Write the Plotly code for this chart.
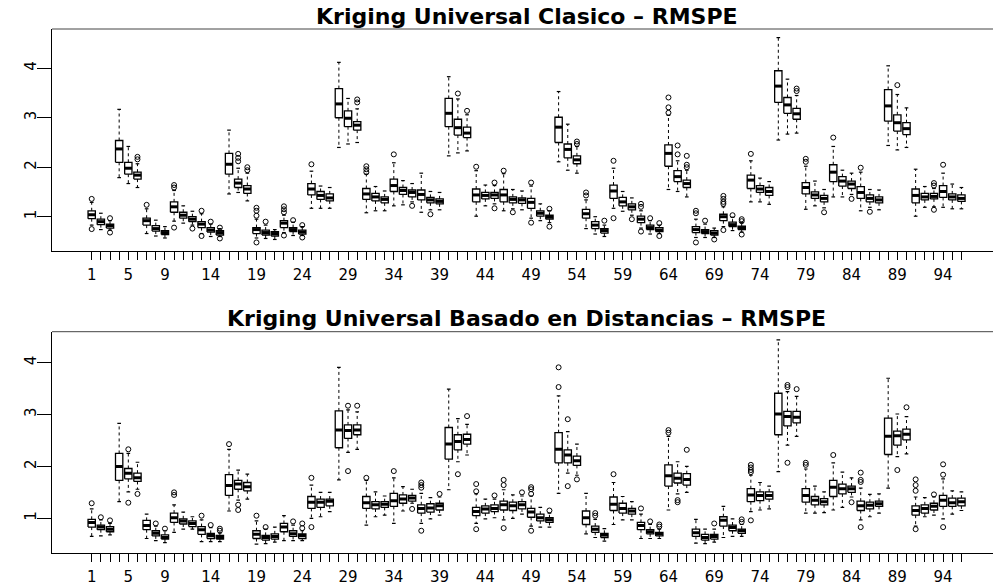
import plotly.graph_objects as go

# ---------------------------------------------------------------- data
positions = list(range(1, 97))
labeled_ticks = [1, 5, 9, 14, 19, 24, 29, 34, 39, 44, 49, 54, 59, 64, 69, 74, 79, 84, 89, 94]

title_top = "Kriging Universal Clasico \u2013 RMSPE"
title_bottom = "Kriging Universal Basado en Distancias \u2013 RMSPE"

# Kriging Universal Clasico: five-number summaries per scenario
clas_lo = [0.83, 0.74, 0.73, 1.79, 1.67, 1.59, 0.66, 0.61, 0.57, 0.91, 0.87, 0.83,
           0.66, 0.60, 0.60, 1.46, 1.49, 1.32, 0.57, 0.56, 0.54, 0.68, 0.62, 0.62,
           1.17, 1.17, 1.17, 2.40, 2.47, 2.50, 1.08, 1.12, 1.12, 1.22, 1.24, 1.30,
           1.09, 1.14, 1.14, 2.23, 2.29, 2.33, 1.01, 1.22, 1.26, 1.12, 1.16, 1.14,
           0.97, 0.92, 0.88, 2.11, 1.94, 1.88, 0.76, 0.65, 0.60, 1.17, 1.11, 1.03,
           0.77, 0.65, 0.66, 1.55, 1.51, 1.40, 0.58, 0.58, 0.58, 0.80, 0.72, 0.69,
           1.30, 1.30, 1.25, 2.55, 2.67, 2.69, 1.15, 1.22, 1.18, 1.40, 1.40, 1.45,
           1.12, 1.19, 1.14, 2.44, 2.35, 2.40, 1.01, 1.19, 1.20, 1.19, 1.16, 1.16]
clas_q1 = [0.96, 0.84, 0.77, 2.10, 1.86, 1.76, 0.83, 0.71, 0.64, 1.09, 0.97, 0.90,
           0.78, 0.69, 0.63, 1.86, 1.59, 1.47, 0.66, 0.63, 0.61, 0.78, 0.70, 0.65,
           1.44, 1.35, 1.32, 3.00, 2.82, 2.75, 1.35, 1.32, 1.28, 1.51, 1.45, 1.40,
           1.34, 1.28, 1.26, 2.82, 2.65, 2.60, 1.30, 1.36, 1.37, 1.30, 1.28, 1.27,
           1.17, 1.01, 0.95, 2.50, 2.19, 2.07, 0.97, 0.76, 0.67, 1.37, 1.22, 1.14,
           0.88, 0.74, 0.70, 2.02, 1.71, 1.59, 0.68, 0.66, 0.63, 0.92, 0.80, 0.74,
           1.57, 1.49, 1.43, 3.31, 3.09, 2.97, 1.46, 1.37, 1.30, 1.71, 1.62, 1.57,
           1.37, 1.30, 1.28, 2.93, 2.73, 2.66, 1.28, 1.34, 1.36, 1.39, 1.34, 1.31]
clas_med = [1.04, 0.90, 0.82, 2.37, 1.98, 1.84, 0.92, 0.76, 0.68, 1.20, 1.03, 0.95,
            0.85, 0.73, 0.68, 2.06, 1.68, 1.56, 0.74, 0.68, 0.66, 0.87, 0.74, 0.69,
            1.56, 1.43, 1.38, 3.28, 2.99, 2.85, 1.46, 1.40, 1.35, 1.63, 1.53, 1.49,
            1.45, 1.34, 1.31, 3.09, 2.80, 2.69, 1.44, 1.43, 1.44, 1.44, 1.35, 1.34,
            1.29, 1.07, 0.99, 2.81, 2.36, 2.15, 1.06, 0.83, 0.72, 1.52, 1.30, 1.20,
            0.95, 0.78, 0.73, 2.28, 1.81, 1.67, 0.74, 0.70, 0.67, 1.00, 0.84, 0.78,
            1.74, 1.56, 1.51, 3.64, 3.26, 3.08, 1.59, 1.44, 1.37, 1.90, 1.72, 1.66,
            1.49, 1.37, 1.34, 3.24, 2.90, 2.78, 1.43, 1.40, 1.41, 1.51, 1.40, 1.37]
clas_q3 = [1.12, 0.95, 0.85, 2.54, 2.10, 1.90, 0.97, 0.82, 0.72, 1.30, 1.09, 1.00,
           0.90, 0.78, 0.72, 2.28, 1.76, 1.63, 0.78, 0.73, 0.70, 0.92, 0.78, 0.73,
           1.67, 1.51, 1.46, 3.59, 3.14, 2.92, 1.57, 1.47, 1.40, 1.76, 1.59, 1.54,
           1.54, 1.39, 1.36, 3.39, 2.97, 2.81, 1.56, 1.49, 1.49, 1.55, 1.40, 1.38,
           1.37, 1.12, 1.03, 3.01, 2.47, 2.23, 1.15, 0.90, 0.76, 1.64, 1.39, 1.26,
           1.01, 0.83, 0.78, 2.45, 1.93, 1.74, 0.80, 0.74, 0.72, 1.05, 0.89, 0.81,
           1.84, 1.63, 1.59, 3.95, 3.41, 3.19, 1.69, 1.50, 1.43, 2.05, 1.81, 1.72,
           1.61, 1.44, 1.40, 3.57, 3.06, 2.90, 1.56, 1.47, 1.47, 1.63, 1.46, 1.44]
clas_hi = [1.29, 1.07, 0.92, 3.17, 2.42, 2.07, 1.16, 0.93, 0.80, 1.53, 1.22, 1.11,
           1.06, 0.85, 0.76, 2.75, 1.98, 1.88, 0.95, 0.83, 0.74, 1.03, 0.89, 0.80,
           1.92, 1.62, 1.59, 4.12, 3.39, 3.18, 1.86, 1.61, 1.52, 2.09, 1.73, 1.67,
           1.88, 1.51, 1.49, 3.83, 3.38, 3.06, 1.93, 1.64, 1.63, 1.87, 1.55, 1.52,
           1.62, 1.26, 1.12, 3.53, 2.87, 2.42, 1.34, 1.00, 0.83, 1.98, 1.51, 1.38,
           1.12, 0.92, 0.83, 3.05, 2.13, 1.94, 0.95, 0.85, 0.77, 1.20, 0.99, 0.88,
           2.13, 1.78, 1.71, 4.62, 3.78, 3.45, 2.02, 1.72, 1.55, 2.42, 1.94, 1.88,
           1.90, 1.55, 1.54, 4.05, 3.47, 3.20, 1.96, 1.61, 1.57, 1.88, 1.66, 1.59]
clas_out = [[1.36, 0.75], [], [0.97, 0.68], [], [], [2.21, 2.16],
            [1.24], [], [], [1.64, 1.59, 0.78], [], [0.76],
            [1.12, 0.61], [0.90], [0.78, 0.56], [], [2.27, 2.19, 2.12], [2.00, 1.94],
            [1.18, 1.12, 1.02, 0.48], [0.90], [], [1.21, 1.15, 1.09, 0.62], [0.93], [0.83, 0.58],
            [2.06], [], [], [], [], [3.37, 3.31],
            [2.02, 1.96, 1.90], [], [], [2.26], [], [1.22],
            [], [1.05], [], [], [3.49], [3.14],
            [2.01], [], [1.69, 1.17], [1.93], [1.09], [],
            [1.69, 0.88], [], [1.16, 0.80], [], [], [2.52, 2.47],
            [1.49, 1.43], [], [0.92], [2.13, 0.97], [], [0.95],
            [1.26, 1.20, 0.70], [0.97], [0.87, 0.61], [3.41, 3.21, 3.10], [2.44, 2.26], [2.23, 2.05, 2.00],
            [1.12, 1.07, 0.48], [0.92], [0.54], [1.42, 1.36, 1.30, 1.26, 0.73], [1.03], [0.95, 0.91, 0.64],
            [2.27], [], [], [], [], [3.59, 3.54],
            [2.17, 2.11], [], [1.09], [2.60], [], [1.36],
            [1.99], [1.10], [], [], [3.66], [],
            [], [], [1.68, 1.63, 1.14], [2.05], [], []]

# Kriging Universal Basado en Distancias: five-number summaries per scenario
dist_lo = [0.65, 0.66, 0.68, 1.32, 1.51, 1.56, 0.61, 0.57, 0.53, 0.73, 0.79, 0.79,
           0.55, 0.55, 0.55, 1.14, 1.35, 1.37, 0.50, 0.51, 0.54, 0.57, 0.57, 0.57,
           1.00, 1.03, 1.13, 1.74, 2.27, 2.33, 0.87, 1.03, 1.06, 0.90, 1.14, 1.29,
           0.90, 0.99, 1.06, 1.55, 2.09, 2.22, 0.90, 0.99, 1.01, 0.97, 1.00, 1.08,
           0.85, 0.83, 0.83, 1.48, 1.87, 1.83, 0.70, 0.63, 0.56, 0.88, 0.97, 0.97,
           0.61, 0.61, 0.61, 1.16, 1.47, 1.50, 0.52, 0.51, 0.54, 0.63, 0.65, 0.65,
           1.13, 1.16, 1.18, 1.90, 2.41, 2.58, 1.10, 1.10, 1.11, 1.16, 1.21, 1.41,
           0.97, 1.03, 1.10, 1.58, 2.19, 2.24, 0.85, 1.03, 1.06, 0.99, 1.08, 1.15]
dist_q1 = [0.83, 0.78, 0.74, 1.73, 1.76, 1.71, 0.78, 0.66, 0.60, 0.92, 0.89, 0.84,
           0.69, 0.61, 0.60, 1.44, 1.56, 1.53, 0.61, 0.58, 0.60, 0.74, 0.65, 0.61,
           1.19, 1.21, 1.24, 2.36, 2.54, 2.61, 1.19, 1.18, 1.21, 1.23, 1.29, 1.33,
           1.10, 1.12, 1.16, 2.14, 2.32, 2.43, 1.05, 1.10, 1.13, 1.16, 1.15, 1.18,
           1.02, 0.95, 0.92, 2.07, 2.07, 2.02, 0.88, 0.73, 0.63, 1.15, 1.10, 1.08,
           0.78, 0.70, 0.66, 1.62, 1.68, 1.64, 0.65, 0.58, 0.60, 0.85, 0.76, 0.71,
           1.32, 1.34, 1.37, 2.61, 2.78, 2.84, 1.31, 1.26, 1.26, 1.42, 1.47, 1.50,
           1.15, 1.18, 1.23, 2.23, 2.41, 2.51, 1.06, 1.10, 1.16, 1.23, 1.23, 1.24]
dist_med = [0.92, 0.83, 0.79, 2.00, 1.87, 1.78, 0.86, 0.71, 0.63, 1.01, 0.95, 0.90,
            0.78, 0.67, 0.63, 1.63, 1.66, 1.61, 0.69, 0.63, 0.65, 0.83, 0.70, 0.67,
            1.31, 1.31, 1.33, 2.70, 2.69, 2.70, 1.30, 1.26, 1.27, 1.34, 1.37, 1.39,
            1.19, 1.20, 1.24, 2.43, 2.48, 2.52, 1.13, 1.18, 1.19, 1.26, 1.24, 1.26,
            1.12, 1.01, 0.97, 2.33, 2.22, 2.11, 1.01, 0.79, 0.68, 1.27, 1.19, 1.14,
            0.86, 0.74, 0.70, 1.82, 1.77, 1.75, 0.72, 0.63, 0.65, 0.96, 0.82, 0.76,
            1.45, 1.44, 1.44, 3.01, 2.96, 2.95, 1.44, 1.35, 1.32, 1.60, 1.57, 1.57,
            1.24, 1.25, 1.28, 2.58, 2.59, 2.62, 1.15, 1.19, 1.23, 1.35, 1.30, 1.32]
dist_q3 = [0.98, 0.87, 0.84, 2.25, 1.96, 1.87, 0.96, 0.76, 0.68, 1.10, 0.99, 0.95,
           0.84, 0.71, 0.67, 1.84, 1.73, 1.69, 0.76, 0.67, 0.70, 0.90, 0.76, 0.70,
           1.42, 1.37, 1.37, 3.07, 2.80, 2.80, 1.42, 1.32, 1.32, 1.48, 1.45, 1.44,
           1.26, 1.28, 1.29, 2.75, 2.61, 2.62, 1.21, 1.24, 1.26, 1.33, 1.31, 1.32,
           1.19, 1.08, 1.01, 2.65, 2.32, 2.20, 1.14, 0.85, 0.71, 1.41, 1.29, 1.19,
           0.92, 0.78, 0.73, 2.03, 1.87, 1.86, 0.79, 0.69, 0.69, 1.03, 0.87, 0.79,
           1.57, 1.51, 1.51, 3.41, 3.06, 3.06, 1.57, 1.42, 1.38, 1.73, 1.66, 1.62,
           1.33, 1.31, 1.33, 2.93, 2.68, 2.72, 1.24, 1.26, 1.29, 1.44, 1.39, 1.39]
dist_hi = [1.18, 0.97, 0.90, 2.83, 2.25, 2.08, 1.08, 0.85, 0.76, 1.26, 1.12, 1.03,
           0.97, 0.82, 0.72, 2.33, 1.93, 1.85, 0.95, 0.79, 0.83, 1.05, 0.87, 0.76,
           1.64, 1.50, 1.50, 3.91, 3.09, 3.05, 1.73, 1.51, 1.43, 1.78, 1.61, 1.56,
           1.48, 1.40, 1.41, 3.49, 2.92, 2.81, 1.47, 1.37, 1.37, 1.55, 1.45, 1.43,
           1.43, 1.21, 1.10, 3.36, 2.67, 2.43, 1.48, 0.98, 0.80, 1.69, 1.42, 1.32,
           1.08, 0.88, 0.79, 2.58, 2.09, 2.00, 0.98, 0.79, 0.79, 1.23, 0.99, 0.88,
           1.83, 1.69, 1.62, 4.44, 3.44, 3.35, 1.95, 1.62, 1.51, 2.07, 1.89, 1.78,
           1.58, 1.46, 1.47, 3.70, 3.01, 2.96, 1.41, 1.40, 1.41, 1.76, 1.53, 1.51]
dist_out = [[1.29], [1.02], [0.96], [], [2.33, 1.30], [1.47],
            [], [0.90], [0.80], [1.50, 1.45], [], [],
            [1.05], [0.87], [0.80, 0.76], [2.43], [1.26, 1.16], [],
            [1.05], [0.83], [], [], [0.94], [0.90, 0.81],
            [1.78, 0.83], [], [], [], [3.17, 1.91], [3.17],
            [1.78], [], [], [1.91], [], [1.18],
            [1.69, 1.64, 1.59, 0.76], [], [1.47], [], [1.85], [2.97],
            [1.66, 1.52, 0.79], [], [1.44], [1.74, 1.64, 0.81], [], [1.50],
            [1.60, 1.56, 1.47, 0.76], [], [1.15], [3.91, 3.53], [2.91, 1.62], [1.75],
            [], [1.10, 1.05], [], [1.85], [], [],
            [1.19], [0.94], [0.88, 0.84], [2.70, 2.65], [1.35, 1.31], [2.32],
            [], [], [0.90], [], [], [0.98, 0.93],
            [2.03, 1.98, 1.93, 1.89, 0.96], [], [], [], [3.57, 3.53, 2.07], [3.49],
            [2.07, 2.03], [], [], [2.22], [], [1.31],
            [1.88, 1.74, 1.70, 0.83], [], [], [], [1.93], [3.14],
            [1.75, 1.64, 1.53, 0.79], [], [1.46], [2.04, 1.84, 0.83], [], []]

# ---------------------------------------------------------------- geometry
BOX_HALF = 0.4      # half of the box width, in x units
STAPLE_HALF = 0.2   # half of the whisker end-cap width
FW, FH = 993, 588

X_RANGE = [-3.336, 99.45]
TOP_Y_RANGE = [0.307, 4.794]
BOT_Y_RANGE = [0.325, 4.597]

X_DOMAIN = [52 / FW, 1.0]
TOP_DOMAIN = [1 - 251 / FH, 1 - 29 / FH]
BOT_DOMAIN = [1 - 553.3 / FH, 1 - 331.7 / FH]

INK = "#000000"
FONT = "DejaVu Sans"


def panel_traces(lo, q1, med, q3, hi, out, xref, yref):
    bx, by, mx, my, wx, wy, sx, sy, ox, oy = ([] for _ in range(10))
    for p, a, m, b, l, h, o in zip(positions, q1, med, q3, lo, hi, out):
        bx += [p - BOX_HALF, p + BOX_HALF, p + BOX_HALF, p - BOX_HALF, p - BOX_HALF, None]
        by += [a, a, b, b, a, None]
        mx += [p - BOX_HALF, p + BOX_HALF, None]
        my += [m, m, None]
        wx += [p, p, None, p, p, None]
        wy += [b, h, None, a, l, None]
        sx += [p - STAPLE_HALF, p + STAPLE_HALF, None, p - STAPLE_HALF, p + STAPLE_HALF, None]
        sy += [h, h, None, l, l, None]
        for v in o:
            ox.append(p)
            oy.append(v)
    common = dict(xaxis=xref, yaxis=yref, hoverinfo="skip", showlegend=False)
    return [
        go.Scatter(x=wx, y=wy, mode="lines",
                   line=dict(color=INK, width=1, dash="3px,3px"), **common),
        go.Scatter(x=sx, y=sy, mode="lines", line=dict(color=INK, width=1.2), **common),
        go.Scatter(x=bx, y=by, mode="lines", line=dict(color=INK, width=1.3), **common),
        go.Scatter(x=mx, y=my, mode="lines", line=dict(color=INK, width=3), **common),
        go.Scatter(x=ox, y=oy, mode="markers",
                   marker=dict(symbol="circle-open", size=5, color=INK,
                               line=dict(width=1, color=INK)), **common),
    ]


fig = go.Figure()
for tr in panel_traces(clas_lo, clas_q1, clas_med, clas_q3, clas_hi, clas_out, "x", "y"):
    fig.add_trace(tr)
for tr in panel_traces(dist_lo, dist_q1, dist_med, dist_q3, dist_hi, dist_out, "x2", "y2"):
    fig.add_trace(tr)

tick_text = [str(p) if p in labeled_ticks else "" for p in positions]

xaxis_style = dict(
    domain=X_DOMAIN, range=X_RANGE, tickmode="array", tickvals=positions,
    ticktext=tick_text, ticks="outside", ticklen=8, tickwidth=1, tickcolor=INK,
    showline=True, linecolor=INK, linewidth=1, showgrid=False, zeroline=False,
    tickfont=dict(family=FONT, size=15, color=INK), ticklabelstandoff=2,
    fixedrange=True,
)
yaxis_style = dict(
    tickmode="array", tickvals=[1, 2, 3, 4], ticktext=["1", "2", "3", "4"],
    ticks="outside", ticklen=14, tickwidth=1, tickcolor=INK, tickangle=-90,
    showline=True, linecolor=INK, linewidth=1, showgrid=False, zeroline=False,
    tickfont=dict(family=FONT, size=15, color=INK), ticklabelstandoff=-5,
    fixedrange=True,
)

fig.update_layout(
    width=FW, height=FH,
    margin=dict(l=0, r=0, t=0, b=0),
    paper_bgcolor="white", plot_bgcolor="white",
    xaxis=dict(anchor="y", **xaxis_style),
    yaxis=dict(anchor="x", domain=TOP_DOMAIN, range=TOP_Y_RANGE, **yaxis_style),
    xaxis2=dict(anchor="y2", **xaxis_style),
    yaxis2=dict(anchor="x2", domain=BOT_DOMAIN, range=BOT_Y_RANGE, **yaxis_style),
)

# top edge of each panel frame
for yref in ("y domain", "y2 domain"):
    fig.add_shape(type="line", xref="paper", yref=yref, x0=X_DOMAIN[0], x1=1,
                  y0=1, y1=1, line=dict(color="#444444", width=1))

# panel titles, centred on the plotting region
title_x = 526.5 / FW
for text, ypix in ((title_top, 16.3), (title_bottom, 318.8)):
    fig.add_annotation(text="<b>" + text + "</b>", xref="paper", yref="paper",
                       x=title_x, y=1 - ypix / FH, xanchor="center", yanchor="middle",
                       showarrow=False, font=dict(family=FONT, size=22, color=INK))

fig.write_html("out.html")
